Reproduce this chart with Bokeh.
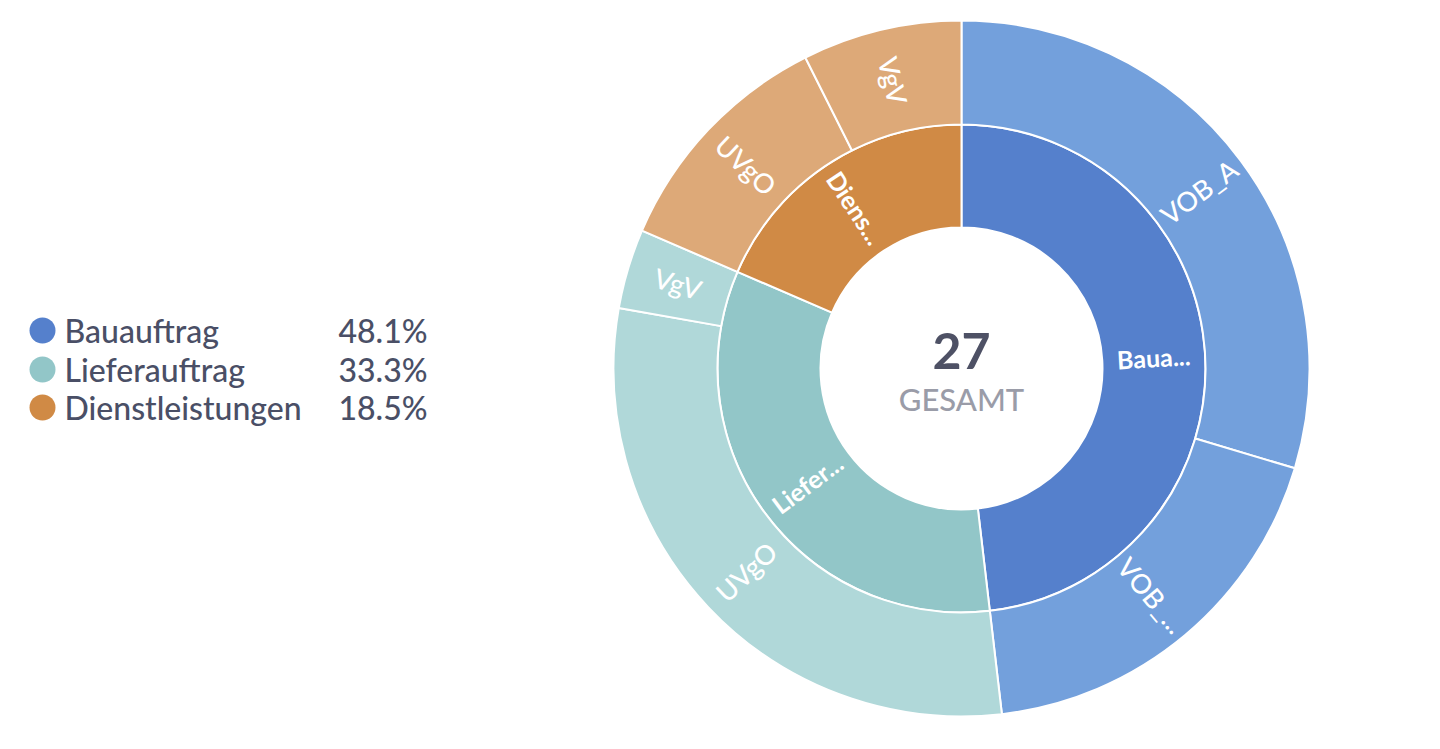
import numpy as np
from bokeh.plotting import figure
from bokeh.models import ColumnDataSource, Range1d
from bokeh.core.properties import value
from bokeh.embed import file_html
from bokeh.resources import INLINE

# ---- Daten ----
# innerer Ring: Auftragsarten
kategorien = ["Bauauftrag", "Lieferauftrag", "Dienstleistungen"]
kategorie_labels = ["Baua...", "Liefer...", "Diens..."]
kategorie_werte = [13, 9, 5]
kategorie_farben = ["#5580cc", "#92c6c8", "#d08a45"]

# aeusserer Ring: Vergabeverfahren je Auftragsart
verfahren_eltern = ["Bauauftrag", "Bauauftrag", "Lieferauftrag", "Lieferauftrag",
                    "Dienstleistungen", "Dienstleistungen"]
verfahren_labels = ["VOB_A", "VOB_...", "UVgO", "VgV", "UVgO", "VgV"]
verfahren_werte = [8, 5, 8, 1, 3, 2]
verfahren_farben = ["#73a0dc", "#73a0dc", "#b0d8d9", "#b0d8d9", "#dda978", "#dda978"]

gesamt = sum(kategorie_werte)

# ---- Geometrie (Seitenpixel, y nach oben) ----
W, H = 1440, 749
cx, cy = 961, H - 368
r_loch, r_mitte, r_aussen = 141, 244, 348
FONT = "Lato"
FONT_MEDIUM = "Lato Medium"

p = figure(width=W - 16, height=H - 16, x_range=Range1d(0, W - 16), y_range=Range1d(16, H),
           output_backend="svg", toolbar_location=None, min_border=0)
p.axis.visible = False
p.grid.visible = False
p.outline_line_color = None
p.background_fill_color = "white"


def ring(werte, labels, farben, r0, r1, size, font, style):
    werte = np.array(werte, dtype=float)
    ende = np.cumsum(werte) / gesamt * 2 * np.pi
    anfang = ende - werte / gesamt * 2 * np.pi
    mitte = (anfang + ende) / 2
    src = ColumnDataSource(dict(
        start=np.pi / 2 - ende, end=np.pi / 2 - anfang, farbe=farben,
    ))
    p.annular_wedge(x=cx, y=cy, inner_radius=r0, outer_radius=r1,
                    start_angle="start", end_angle="end", direction="anticlock",
                    fill_color="farbe", line_color="white", line_width=2, source=src)
    phi = np.pi / 2 - mitte
    rot = []
    for a in phi:
        a = (a + np.pi) % (2 * np.pi) - np.pi
        if a < -np.pi / 2:
            a += np.pi
        elif a > np.pi / 2:
            a -= np.pi
        rot.append(a)
    rm = (r0 + r1) / 2
    lsrc = ColumnDataSource(dict(
        x=cx + rm * np.cos(phi), y=cy + rm * np.sin(phi), text=labels, angle=rot,
    ))
    p.text(x="x", y="y", text="text", angle="angle", source=lsrc,
           text_align="center", text_baseline="middle", text_color="white",
           text_font=value(font), text_font_size=size, text_font_style=style)


ring(kategorie_werte, kategorie_labels, kategorie_farben, r_loch, r_mitte, "25px", FONT, "bold")
ring(verfahren_werte, verfahren_labels, verfahren_farben, r_mitte, r_aussen, "27px", FONT_MEDIUM, "normal")

# ---- Mitte ----
p.text(x=[cx], y=[H - 350], text=[str(gesamt)], text_align="center", text_baseline="middle",
       text_color="#4e5165", text_font=value(FONT), text_font_size="50px", text_font_style="bold")
p.text(x=[cx], y=[H - 398], text=["GESAMT"], text_align="center", text_baseline="middle",
       text_color="#9a9ca8", text_font=value(FONT_MEDIUM), text_font_size="31px")

# ---- Legende ----
ly = [H - 330, H - 369, H - 407]
prozent = ["%.1f%%" % (w / gesamt * 100) for w in kategorie_werte]
p.scatter(x=[42] * 3, y=ly, size=26, marker="circle", fill_color=kategorie_farben, line_color=None)
p.text(x=[64] * 3, y=ly, text=kategorien, text_align="left", text_baseline="middle",
       text_color="#4a4f66", text_font=value(FONT_MEDIUM), text_font_size="32px")
p.text(x=[427] * 3, y=ly, text=prozent, text_align="right", text_baseline="middle",
       text_color="#4a4f66", text_font=value(FONT_MEDIUM), text_font_size="32px")

open("out.html", "w").write(file_html(p, INLINE))
